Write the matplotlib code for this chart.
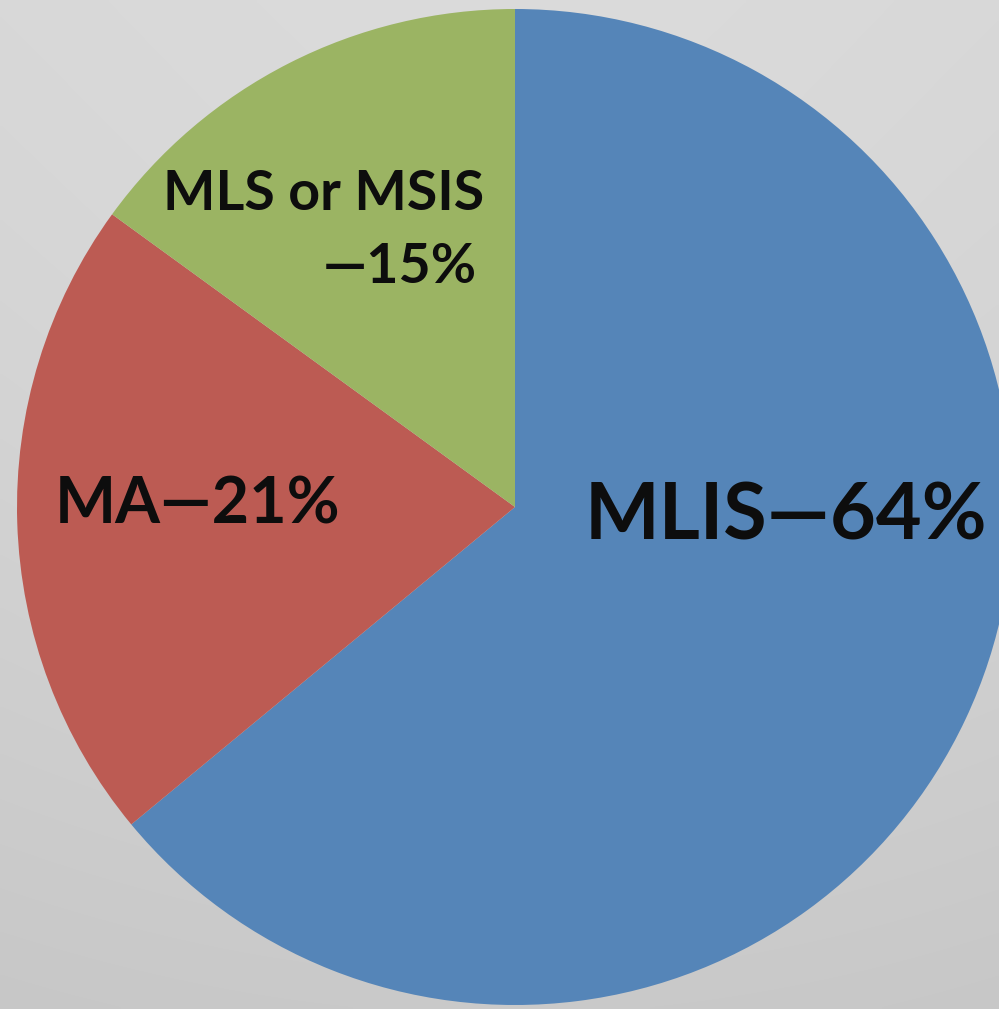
import numpy as np
import matplotlib
matplotlib.use("Agg")
import matplotlib.pyplot as plt

labels = ["MLIS\u201464%", "MA\u201421%", "MLS or MSIS\n\u201415%"]
values = [64, 21, 15]
colors = ["#5585b8", "#bc5b53", "#9bb463"]

W, H = 999, 1009
fig = plt.figure(figsize=(W / 100, H / 100), dpi=100)
ax = fig.add_axes([0, 0, 1, 1])
ax.set_xlim(0, W)
ax.set_ylim(0, H)
ax.set_aspect("equal")
ax.axis("off")

# background gradient (row 0 = top)
yy, xx = np.mgrid[0:H:4, 0:W:4]
r = np.hypot((xx - 500) / 700, (yy - 400) / 700)
g = 0.875 - 0.06 * (yy / H) - 0.03 * r
bg = np.dstack([g, g, g])
ax.imshow(bg, extent=[0, W, 0, H], origin="upper", zorder=0, interpolation="bilinear")

cx, cy, R = 515, H - 507, 498
ax.pie(values, colors=colors, startangle=90, counterclock=False,
       center=(cx, cy), radius=R, frame=True,
       wedgeprops=dict(linewidth=0, edgecolor="none", zorder=2))
ax.set_xlim(0, W)
ax.set_ylim(0, H)
ax.axis("off")

font = "Lato"
ax.text(585, H - 540, labels[0], fontsize=57, fontweight="bold", family=font,
        color="#0d0d0d", ha="left", va="baseline", zorder=3)
ax.text(55, H - 523, labels[1], fontsize=46.5, fontweight="bold", family=font,
        color="#0d0d0d", ha="left", va="baseline", zorder=3)
l1, l2 = labels[2].split("\n")
ax.text(484, H - 210, l1, fontsize=40, fontweight="bold", family=font,
        color="#0d0d0d", ha="right", va="baseline", zorder=3)
ax.text(477, H - 283, l2, fontsize=40, fontweight="bold", family=font,
        color="#0d0d0d", ha="right", va="baseline", zorder=3)

fig.savefig("out.png", dpi=100)
